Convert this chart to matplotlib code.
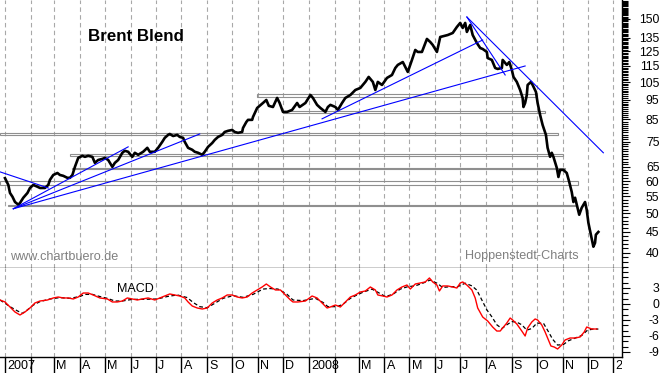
import numpy as np
import pandas as pd
import matplotlib
matplotlib.use('Agg')
import matplotlib.pyplot as plt
from matplotlib.patches import Rectangle
from matplotlib.ticker import FixedLocator, FixedFormatter, NullFormatter

plt.rcParams['font.family'] = ['Liberation Sans', 'DejaVu Sans']

# Brent Blend close (USD), x = days since 2007-01-01
price_day = [0, 4, 6, 9, 12, 16, 18, 22, 27, 30, 34, 39, 42, 48, 52, 54, 58, 63, 66, 70,
             75, 78, 81, 84, 88, 93, 96, 100, 105, 108, 112, 117, 120, 124, 129, 132, 136, 141, 144, 148,
             153, 156, 160, 166, 171, 174, 180, 184, 189, 192, 196, 198, 202, 207, 210, 214, 216, 220, 225, 228,
             232, 237, 240, 244, 249, 252, 256, 261, 264, 268, 273, 276, 280, 285, 286, 290, 292, 297, 298, 303,
             306, 310, 314, 317, 322, 327, 330, 334, 339, 345, 351, 354, 361, 367, 370, 375, 379, 385, 388, 391,
             397, 400, 405, 409, 415, 421, 427, 433, 437, 442, 445, 448, 453, 459, 465, 469, 472, 478, 484, 489,
             493, 496, 501, 507, 511, 514, 519, 523, 528, 532, 538, 543, 547, 550, 553, 555, 559, 562, 567, 571,
             574, 579, 580, 585, 589, 592, 597, 598, 603, 606, 609, 611, 615, 619, 622, 623, 625, 627, 628, 632,
             634, 638, 640, 643, 646, 650, 652, 655, 657, 659, 663, 665, 667, 671, 675, 678, 681, 683, 685, 687,
             690, 693, 697, 699, 701, 704, 707, 709, 710, 713]
price = [61.0, 58.7, 56.1, 54.9, 53.3, 52.5, 53.0, 54.6, 56.1, 57.7, 58.7, 58.1, 57.7, 57.7, 58.7, 60.4, 62.1, 62.8, 62.1, 61.8,
         61.1, 61.1, 62.1, 65.0, 68.4, 69.2, 68.8, 69.2, 68.8, 66.5, 67.6, 68.0, 68.4, 67.6, 65.0, 66.5, 67.6, 70.4, 71.2, 70.8,
         68.8, 70.4, 69.6, 70.8, 72.4, 70.8, 70.8, 72.4, 74.9, 76.6, 77.9, 78.3, 77.4, 77.9, 77.0, 76.6, 74.9, 72.4, 71.6, 70.8,
         70.4, 69.6, 70.8, 72.8, 74.4, 75.7, 77.0, 77.9, 79.2, 79.7, 80.1, 79.2, 78.8, 79.2, 81.0, 83.8, 84.8, 84.8, 86.2, 90.7,
         91.8, 93.3, 94.9, 91.8, 91.2, 96.0, 93.3, 88.7, 88.7, 89.7, 93.3, 91.2, 93.3, 97.6, 96.0, 92.3, 90.7, 88.7, 91.2, 92.3,
         91.2, 89.7, 93.3, 96.0, 97.6, 100.4, 101.6, 105.1, 108.1, 105.1, 100.4, 105.1, 103.3, 107.5, 109.3, 113.7, 115.7, 117.6, 111.2, 119.0,
         125.9, 124.5, 124.5, 134.0, 131.7, 129.5, 124.5, 135.5, 136.3, 137.0, 138.6, 143.4, 146.7, 142.6, 146.7, 139.4, 145.0, 137.0, 131.0, 127.3,
         126.6, 124.5, 120.3, 119.0, 113.7, 113.1, 113.7, 119.0, 115.7, 117.6, 112.5, 108.1, 105.1, 100.4, 96.0, 91.2, 93.3, 97.6, 103.3, 105.1,
         103.3, 99.3, 93.3, 87.2, 82.4, 77.9, 72.4, 68.8, 70.4, 68.8, 64.7, 61.4, 63.9, 63.9, 62.8, 59.7, 56.4, 53.3, 54.6, 52.5,
         49.6, 51.6, 53.3, 51.0, 47.4, 44.3, 41.4, 42.3, 44.3, 45.0]

# MACD (red) and signal (black dashed)
macd_day = [-6, 0, 6, 12, 18, 24, 30, 36, 42, 51, 58, 64, 70, 76, 82, 88, 94, 100, 106, 114,
            123, 129, 135, 141, 147, 153, 159, 165, 172, 180, 186, 192, 198, 204, 210, 216, 220, 225, 231, 237,
            243, 249, 255, 261, 267, 273, 279, 285, 291, 297, 303, 309, 314, 319, 325, 331, 337, 343, 346, 352,
            361, 369, 375, 381, 387, 391, 397, 403, 409, 415, 421, 427, 433, 439, 445, 448, 454, 459, 465, 471,
            477, 483, 487, 493, 499, 505, 510, 514, 519, 522, 526, 532, 538, 543, 547, 550, 555, 561, 565, 568,
            574, 580, 586, 591, 595, 598, 603, 607, 610, 615, 621, 625, 628, 633, 637, 640, 645, 649, 652, 656,
            660, 664, 669, 673, 679, 685, 691, 696, 699, 705, 711]
macd = [0.75, 0.38, -0.56, -1.5, -2.06, -1.5, -0.75, 0.19, 0.56, 0.75, 1.13, 1.31, 1.13, 1.13, 0.94, 1.31, 2.06, 2.06, 1.69, 1.13,
        0.94, 0.38, 0.38, 0.56, 1.13, 0.94, 0.75, 0.94, 1.13, 0.75, 1.13, 1.5, 1.88, 1.69, 1.5, 1.13, 0.38, -0.38, -0.75, -0.94,
        -0.75, 0.19, 0.75, 1.13, 1.69, 1.69, 1.31, 1.13, 1.31, 2.06, 2.63, 3.19, 3.75, 3.19, 2.63, 2.63, 1.69, 0.75, 0.38, 0.38,
        0.56, 1.5, 1.13, 0.19, -0.75, -0.56, -0.19, -0.56, 0.38, 1.31, 1.69, 2.25, 2.44, 3.19, 2.63, 1.69, 1.5, 1.31, 1.69, 2.63,
        3.19, 3.56, 2.81, 3.75, 3.94, 4.13, 4.88, 4.13, 3.56, 2.44, 3.38, 3.38, 3.19, 3.0, 3.94, 4.13, 3.56, 2.63, 1.13, -0.75,
        -2.44, -3.19, -4.32, -5.07, -5.07, -4.5, -3.56, -2.63, -3.0, -3.75, -5.07, -6.0, -4.5, -3.38, -2.81, -3.0, -3.94, -5.25, -6.38, -7.88,
        -8.07, -8.44, -7.69, -6.75, -6.38, -6.38, -6.19, -5.25, -4.32, -4.69, -4.69]
signal_day = [-6, 0, 6, 15, 21, 27, 34, 42, 54, 66, 78, 90, 96, 105, 114, 123, 132, 141, 153, 166,
              183, 195, 207, 219, 226, 234, 243, 250, 262, 274, 286, 298, 310, 318, 328, 339, 346, 358, 373, 382,
              388, 399, 406, 415, 423, 430, 441, 448, 457, 466, 475, 484, 493, 502, 511, 519, 526, 535, 544, 553,
              561, 567, 573, 579, 585, 591, 597, 603, 609, 615, 621, 627, 633, 639, 647, 653, 658, 664, 671, 677,
              685, 693, 700, 707, 713]
signal = [0.75, 0.13, -0.5, -1.3, -1.75, -1.1, -0.2, 0.44, 0.94, 1.2, 1.06, 1.4, 1.8, 1.8, 1.4, 1.06, 0.56, 0.56, 0.87, 0.87,
          0.94, 1.4, 1.7, 1.2, 0.3, -0.5, -0.7, -0.06, 1.06, 1.56, 1.25, 1.8, 2.8, 2.9, 2.8, 1.8, 0.75, 0.63, 1.06, 0.3,
          -0.5, -0.5, -0.06, 1.06, 1.7, 2.2, 2.8, 2.2, 1.4, 1.8, 2.8, 3.25, 3.4, 3.9, 4.5, 3.9, 3.1, 3.25, 3.25, 3.9,
          3.4, 2.6, 0.75, -1.1, -2.4, -3.9, -4.6, -3.9, -3.3, -3.4, -3.9, -4.9, -4.6, -3.6, -3.6, -5.2, -6.6, -7.7, -7.6, -6.9,
          -6.4, -5.9, -4.9, -4.7, -4.7]

# trend lines drawn on the chart
trend_start_day = [-6, 10, 10, 10, 381, 555, 555]
trend_start_price = [63.2, 51.3, 51.3, 51.3, 85.3, 151.7, 151.7]
trend_end_day = [52, 148, 234, 625, 574, 719, 601]
trend_end_price = [57.7, 72.8, 78.3, 115.0, 133.2, 70.4, 109.3]

# support / resistance bands
band_start_day = [303, 334, -6, 78, 81, -6, 4]
band_end_day = [639, 649, 665, 671, 673, 689, 687]
band_low = [96.5, 88.2, 77.9, 69.2, 64.1, 58.6, 52.2]
band_high = [98.2, 89.2, 78.8, 69.8, 64.6, 60.1, 52.5]

price_ticks = [40, 45, 50, 55, 60, 65, 75, 85, 95, 105, 115, 125, 135, 150]
macd_ticks = [-9, -6, -3, 0, 3]
month_labels = ['2007', '', 'M', 'A', 'M', 'J', 'J', 'A', 'S', 'O', 'N', 'D',
                '2008', '', 'M', 'A', 'M', 'J', 'J', 'A', 'S', 'O', 'N', 'D', '2009']

base = pd.Timestamp('2007-01-01')
month_days = (pd.date_range('2007-01-01', '2009-01-01', freq='MS') - base).days.values
xlim = (-6, 741.4)

W, H = 663, 373
fig = plt.figure(figsize=(W / 100, H / 100), dpi=100)
right = 622 / W
ax = fig.add_axes([0, (H - 268) / H, right, 268 / H])
axm = fig.add_axes([0, (H - 357) / H, right, 89 / H])
axd = fig.add_axes([0, 0, right, (H - 357) / H])

grid_color = '#a8a8a8'
for a in (ax, axm):
    a.set_xlim(xlim)
    a.set_xticks(month_days)
    a.tick_params(axis='x', length=0, labelbottom=False)
    a.grid(axis='x', color=grid_color, linestyle=(0, (4, 3)), linewidth=0.8)
    a.set_axisbelow(True)
    for s in ('left', 'top'):
        a.spines[s].set_visible(False)
    a.spines['right'].set_linewidth(1.0)
    a.spines['bottom'].set_linewidth(1.0)
    a.yaxis.tick_right()
    a.tick_params(axis='y', which='both', direction='out', colors='black',
                  labelsize=8.8, width=0.8)
    a.tick_params(axis='y', which='major', length=6, pad=21)
    a.tick_params(axis='y', which='minor', length=4)

# price panel
ax.set_yscale('log')
ax.set_ylim(36.7, 167)
for d0, d1, lo, hi in zip(band_start_day, band_end_day, band_low, band_high):
    ax.add_patch(Rectangle((d0, lo), d1 - d0, hi - lo, facecolor='none',
                           edgecolor='#8f8f8f', linewidth=0.8, zorder=2))
ax.plot(price_day, price, color='black', linewidth=1.9, zorder=3)
for d0, p0, d1, p1 in zip(trend_start_day, trend_start_price, trend_end_day, trend_end_price):
    ax.plot([d0, d1], [p0, p1], color='#0000ff', linewidth=0.8, zorder=4)

ax.yaxis.set_major_locator(FixedLocator(price_ticks))
ax.yaxis.set_major_formatter(FixedFormatter([str(t) for t in price_ticks]))
ax.yaxis.set_minor_locator(FixedLocator([v for v in range(37, 167) if v not in price_ticks]))
ax.yaxis.set_minor_formatter(NullFormatter())

ax.text(88 / 622, 1 - 41 / 268, 'Brent Blend', transform=ax.transAxes,
        fontsize=12.2, fontweight='bold', ha='left', va='baseline')
ax.text(10 / 622, 1 - 260 / 268, 'www.chartbuero.de', transform=ax.transAxes,
        fontsize=9.1, color='#808080', ha='left', va='baseline')
ax.text(465 / 622, 1 - 259 / 268, 'Hoppenstedt-Charts', transform=ax.transAxes,
        fontsize=9.1, color='#808080', ha='left', va='baseline')

# MACD panel
axm.set_ylim(-9.94, 6.75)
axm.plot(signal_day, signal, color='black', linewidth=0.9, linestyle=(0, (3, 2)), zorder=3)
axm.plot(macd_day, macd, color='#ff0000', linewidth=1.0, zorder=4)
axm.yaxis.set_major_locator(FixedLocator(macd_ticks))
axm.yaxis.set_major_formatter(FixedFormatter([str(t) for t in macd_ticks]))
axm.yaxis.set_minor_locator(FixedLocator([v for v in range(-9, 7) if v not in macd_ticks]))
axm.text(117 / 622, (357 - 291.7) / 89, 'MACD', transform=axm.transAxes,
         fontsize=9, ha='left', va='baseline')

for a in (ax, axm):
    for lab in a.get_yticklabels():
        lab.set_horizontalalignment('right')

# date strip
axd.set_xlim(xlim)
axd.set_ylim(0, 1)
axd.axis('off')
axd.vlines(month_days, 0, 1, color='black', linewidth=1.0)
for d, lab in zip(month_days, month_labels):
    axd.annotate(lab, (d, 0.45), xytext=(1.5, 0), textcoords='offset points',
                 ha='left', va='center', fontsize=9, clip_on=True,
                 annotation_clip=False)

fig.savefig('out.png', dpi=100, facecolor='white')
